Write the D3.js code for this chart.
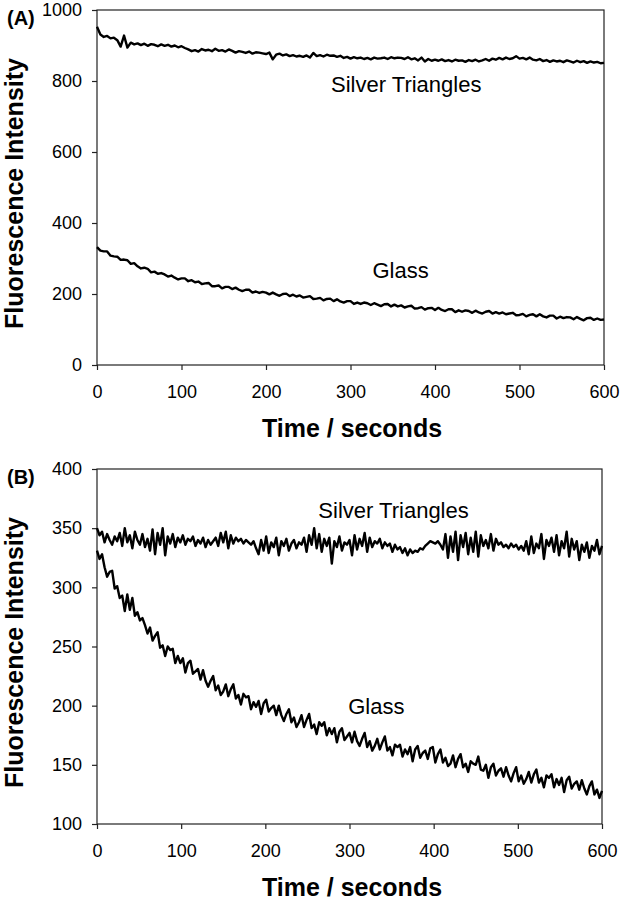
<!DOCTYPE html>
<html>
<head>
<meta charset="utf-8">
<script src="https://cdn.jsdelivr.net/npm/d3@7"></script>
<style>
  body { margin: 0; background: #fff; }
  text { font-family: "Liberation Sans", Arial, sans-serif; fill: #000; }
  .trace { fill: none; stroke: #000; stroke-width: 2.4; stroke-linejoin: round; }
  .frame { fill: none; stroke: #222; stroke-width: 1.2; }
  .axis path { display: none; }
  .axis line { stroke: #222; stroke-width: 1.2; }
  .axis text { font-size: 18px; }
</style>
</head>
<body>
<script>
// sampling steps (seconds between points)
let stepA = 4;
let stepB = 3;

// Panel A - silver triangles, one row = 40 s
let silverA = [
  953,931,924,927,920,922,915,897,928,894,
  908,903,906,901,905,899,904,902,898,903,
  899,902,897,900,895,898,893,889,884,887,
  883,890,886,888,884,891,885,887,883,889,
  885,880,884,882,879,883,877,881,880,878,
  876,880,861,874,877,872,875,870,873,869,
  871,868,872,866,879,870,873,869,874,871,
  872,868,871,865,868,863,867,864,866,862,
  865,861,866,863,864,866,862,867,864,866,
  865,862,867,861,864,858,866,855,862,857,
  860,857,861,856,859,855,860,857,858,854,
  859,856,860,855,858,862,857,863,860,865,
  861,866,862,864,870,863,865,861,866,860,
  858,862,856,859,854,858,855,857,853,858,
  855,852,857,853,856,851,855,852,854,850,
  851
];

// Panel A - glass, one row = 40 s
let glassA = [
  332,322,320,320,308,306,305,296,297,295,
  285,287,278,272,274,271,261,263,257,259,
  255,249,252,246,241,244,244,236,239,233,
  235,228,230,231,222,222,224,216,220,220,
  214,218,212,208,212,212,204,207,203,206,
  204,199,204,199,195,200,201,194,198,193,
  196,190,192,194,186,187,189,182,186,187,
  180,185,179,176,180,180,172,176,172,176,
  174,169,174,170,166,171,172,165,170,165,
  168,162,165,167,159,160,163,156,160,161,
  155,161,155,152,157,157,149,154,150,154,
  152,147,153,148,145,150,152,145,149,145,
  148,143,145,147,140,141,144,137,141,143,
  137,143,137,134,139,139,131,136,132,135,
  134,129,135,130,126,132,133,127,131,127,
  128
];

// Panel B - silver triangles, one row = 30 s
let silverB = [
  350,344,347,338,345,340,336,343,339,346,
  335,350,338,344,333,347,340,336,345,334,
  341,331,349,328,346,336,350,327,343,337,
  345,334,342,338,344,336,341,339,343,335,
  340,337,342,334,340,336,339,342,335,346,
  338,347,333,344,337,342,339,341,337,340,
  338,336,339,333,328,340,331,343,329,338,
  334,342,327,339,335,341,331,337,340,333,
  338,336,342,330,344,336,350,333,345,330,
  341,335,342,320,339,334,343,331,338,336,
  340,327,344,332,341,335,346,330,342,334,
  339,337,341,333,338,335,337,330,336,332,
  334,329,333,327,332,329,331,330,333,332,
  335,337,339,338,337,339,336,332,345,325,
  343,330,347,323,344,334,346,328,342,330,
  347,326,344,335,340,333,345,331,341,336,
  338,334,336,333,337,334,336,332,335,331,
  339,328,343,329,337,333,345,324,340,335,
  342,330,344,327,339,333,347,326,341,332,
  339,323,336,330,338,325,335,331,340,328,
  335
];

// Panel B - glass, one row = 30 s
let glassB = [
  331,324,328,317,309,313,314,299,301,291,
  293,280,294,281,291,276,279,272,274,268,
  261,266,255,259,262,249,251,242,250,247,
  248,236,242,236,240,228,236,238,227,229,
  231,222,230,221,216,221,225,213,217,209,
  212,218,208,214,218,206,209,201,210,207,
  208,197,203,199,204,193,202,205,195,198,
  200,192,200,192,187,193,197,186,190,182,
  186,192,182,188,193,181,184,176,186,183,
  186,175,181,176,181,169,178,181,171,174,
  177,169,178,170,166,172,177,165,170,162,
  166,172,163,169,174,162,165,158,167,165,
  167,157,163,159,165,153,163,166,156,160,
  162,155,164,165,152,159,163,152,156,149,
  151,158,148,155,159,148,151,144,153,151,
  150,157,146,145,150,139,148,151,141,145,
  147,140,148,141,136,143,148,136,141,134,
  138,144,135,142,146,135,139,131,141,139,
  142,131,138,133,139,127,137,140,130,134,
  136,129,137,130,125,132,136,125,129,122,
  128
];

// tick values
let xTicks = [0, 100, 200, 300, 400, 500, 600];
let yTicksA = [0, 200, 400, 600, 800, 1000];
let yTicksB = [100, 150, 200, 250, 300, 350, 400];

let svg = d3.select("body").append("svg")
  .attr("width", 624)
  .attr("height", 900);

function drawPanel(p) {
  let x = d3.scaleLinear().domain([0, 600]).range([p.left, p.right]);
  let y = d3.scaleLinear().domain(p.yDomain).range([p.bottom, p.top]);
  let g = svg.append("g");

  // plot frame
  g.append("rect")
    .attr("class", "frame")
    .attr("x", p.left)
    .attr("y", p.top)
    .attr("width", p.right - p.left)
    .attr("height", p.bottom - p.top);

  // axes
  g.append("g")
    .attr("class", "axis")
    .attr("transform", "translate(0," + p.bottom + ")")
    .call(d3.axisBottom(x).tickValues(xTicks).tickSize(5).tickPadding(15)
      .tickFormat(d3.format("d")));

  g.append("g")
    .attr("class", "axis")
    .attr("transform", "translate(" + p.left + ",0)")
    .call(d3.axisLeft(y).tickValues(p.yTicks).tickSize(5).tickPadding(10)
      .tickFormat(d3.format("d")));

  // traces
  p.series.forEach(function(s) {
    let line = d3.line()
      .x(function(d, i) { return x(i * p.step); })
      .y(function(d) { return y(d); });
    g.append("path")
      .datum(s)
      .attr("class", "trace")
      .attr("d", line);
  });

  // series labels
  p.labels.forEach(function(l) {
    g.append("text")
      .attr("x", x(l.t))
      .attr("y", y(l.v))
      .style("font-size", "22px")
      .text(l.text);
  });

  // axis titles
  g.append("text")
    .attr("x", 352)
    .attr("y", p.bottom + 72)
    .attr("text-anchor", "middle")
    .style("font-size", "25px")
    .style("font-weight", "bold")
    .text("Time / seconds");

  g.append("text")
    .attr("transform", "translate(23," + ((p.top + p.bottom) / 2 + 6) + ") rotate(-90)")
    .attr("text-anchor", "middle")
    .style("font-size", "25px")
    .style("font-weight", "bold")
    .text("Fluorescence Intensity");

  g.append("text")
    .attr("x", 7)
    .attr("y", p.top + 15)
    .style("font-size", "20px")
    .style("font-weight", "bold")
    .text(p.tag);
}

drawPanel({
  tag: "(A)", left: 97, right: 604, top: 10, bottom: 365,
  yDomain: [0, 1000], yTicks: yTicksA, step: stepA,
  series: [silverA, glassA],
  labels: [
    { text: "Silver Triangles", t: 277, v: 769 },
    { text: "Glass", t: 326, v: 245 }
  ]
});

drawPanel({
  tag: "(B)", left: 97, right: 602, top: 469, bottom: 824,
  yDomain: [100, 400], yTicks: yTicksB, step: stepB,
  series: [silverB, glassB],
  labels: [
    { text: "Silver Triangles", t: 263, v: 358.6 },
    { text: "Glass", t: 298.5, v: 193 }
  ]
});
</script>
</body>
</html>
